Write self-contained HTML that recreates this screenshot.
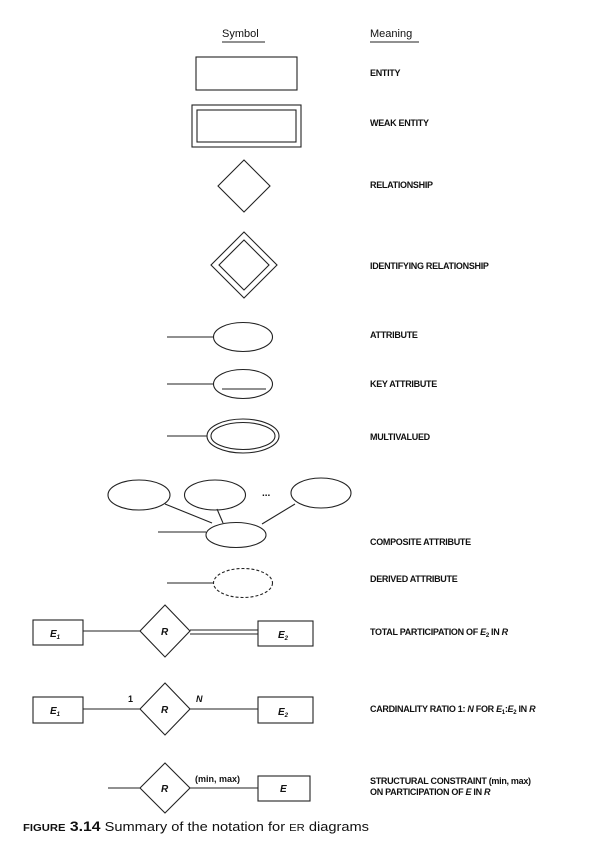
<!DOCTYPE html>
<html><head><meta charset="utf-8"><style>
html,body{margin:0;padding:0;background:#fff;}
svg{display:block;}
text{font-family:"Liberation Sans",sans-serif;fill:#111;}
.m{font-size:9px;font-weight:bold;letter-spacing:-0.3px;}
.i{font-size:10px;font-style:italic;font-weight:bold;}
</style></head><body>
<svg width="608" height="846" viewBox="0 0 608 846" xmlns="http://www.w3.org/2000/svg">
<g fill="none" stroke="#222" stroke-width="1.1">
<rect x="196" y="57" width="101" height="33"/>
<rect x="192" y="105" width="109" height="42"/>
<rect x="197" y="110" width="99" height="32"/>
<polygon points="244,160 270,186 244,212 218,186"/>
<polygon points="244,232 277,265 244,298 211,265"/>
<polygon points="244,240 269,265 244,290 219,265"/>
<line x1="167" y1="337" x2="214" y2="337"/>
<ellipse cx="243" cy="337" rx="29.5" ry="14.5"/>
<line x1="167" y1="384" x2="214" y2="384"/>
<ellipse cx="243" cy="384" rx="29.5" ry="14.5"/>
<line x1="222" y1="389" x2="266" y2="389"/>
<line x1="167" y1="436" x2="207" y2="436"/>
<ellipse cx="243" cy="436" rx="36" ry="17"/>
<ellipse cx="243" cy="436" rx="32" ry="13.5"/>
<ellipse cx="139" cy="495" rx="31" ry="15"/>
<ellipse cx="215" cy="495" rx="30.5" ry="15"/>
<ellipse cx="321" cy="493" rx="30" ry="15"/>
<ellipse cx="236" cy="535" rx="30" ry="12.5"/>
<line x1="158" y1="532" x2="206" y2="532"/>
<line x1="165" y1="504" x2="212" y2="523"/>
<line x1="217" y1="509" x2="223" y2="523"/>
<line x1="295" y1="504" x2="262" y2="524"/>
<line x1="167" y1="583" x2="214" y2="583"/>
<ellipse cx="243" cy="583" rx="29.5" ry="14.5" stroke-dasharray="3,2"/>
<rect x="33" y="620" width="50" height="25"/>
<line x1="83" y1="631" x2="140" y2="631"/>
<polygon points="165,605 190,631 165,657 140,631"/>
<line x1="190" y1="630" x2="258" y2="630"/>
<line x1="190" y1="634" x2="258" y2="634"/>
<rect x="258" y="621" width="55" height="25"/>
<rect x="33" y="697" width="50" height="26"/>
<line x1="83" y1="709" x2="140" y2="709"/>
<polygon points="165,683 190,709 165,735 140,709"/>
<line x1="190" y1="709" x2="258" y2="709"/>
<rect x="258" y="697" width="55" height="26"/>
<line x1="108" y1="788" x2="140" y2="788"/>
<polygon points="165,763 190,788 165,813 140,788"/>
<line x1="190" y1="788" x2="258" y2="788"/>
<rect x="258" y="776" width="52" height="25"/>
<line x1="222" y1="42" x2="265" y2="42"/>
<line x1="370" y1="42" x2="419" y2="42"/>
</g>
<text x="222" y="37" font-size="11">Symbol</text>
<text x="370" y="37" font-size="11">Meaning</text>
<text class="m" x="370" y="76">ENTITY</text>
<text class="m" x="370" y="126">WEAK ENTITY</text>
<text class="m" x="370" y="188">RELATIONSHIP</text>
<text class="m" x="370" y="269">IDENTIFYING RELATIONSHIP</text>
<text class="m" x="370" y="338">ATTRIBUTE</text>
<text class="m" x="370" y="387">KEY ATTRIBUTE</text>
<text class="m" x="370" y="440">MULTIVALUED</text>
<text class="m" x="370" y="545">COMPOSITE ATTRIBUTE</text>
<text class="m" x="370" y="582">DERIVED ATTRIBUTE</text>
<text class="m" x="370" y="635">TOTAL PARTICIPATION OF <tspan font-style="italic">E</tspan><tspan font-size="6" dy="2">2</tspan><tspan dy="-2"> IN </tspan><tspan font-style="italic">R</tspan></text>
<text class="m" x="370" y="712">CARDINALITY RATIO 1: <tspan font-style="italic">N</tspan> FOR <tspan font-style="italic">E</tspan><tspan font-size="6" dy="2">1</tspan><tspan dy="-2">:</tspan><tspan font-style="italic">E</tspan><tspan font-size="6" dy="2">2</tspan><tspan dy="-2"> IN </tspan><tspan font-style="italic">R</tspan></text>
<text class="m" x="370" y="784">STRUCTURAL CONSTRAINT (min, max)</text>
<text class="m" x="370" y="795">ON PARTICIPATION OF <tspan font-style="italic">E</tspan> IN <tspan font-style="italic">R</tspan></text>
<text x="262" y="496" font-size="10" font-weight="bold">...</text>
<text class="i" x="50" y="637">E<tspan font-size="6" dy="2">1</tspan></text>
<text class="i" x="161" y="635">R</text>
<text class="i" x="278" y="638">E<tspan font-size="6" dy="2">2</tspan></text>
<text class="i" x="50" y="714">E<tspan font-size="6" dy="2">1</tspan></text>
<text class="i" x="161" y="713">R</text>
<text class="i" x="278" y="715">E<tspan font-size="6" dy="2">2</tspan></text>
<text x="128" y="702" font-size="9" font-weight="bold">1</text>
<text x="196" y="702" font-size="9" font-weight="bold" font-style="italic">N</text>
<text class="i" x="161" y="792">R</text>
<text class="i" x="280" y="792">E</text>
<text x="195" y="782" font-size="9" font-weight="bold">(min, max)</text>
<text x="23" y="831" font-size="13" fill="#333" textLength="346" lengthAdjust="spacingAndGlyphs"><tspan font-weight="bold" font-size="10">FIGURE</tspan><tspan font-weight="bold" font-size="14"> 3.14</tspan>  Summary of the notation for <tspan font-size="10">ER</tspan> diagrams</text>
</svg>
</body></html>
